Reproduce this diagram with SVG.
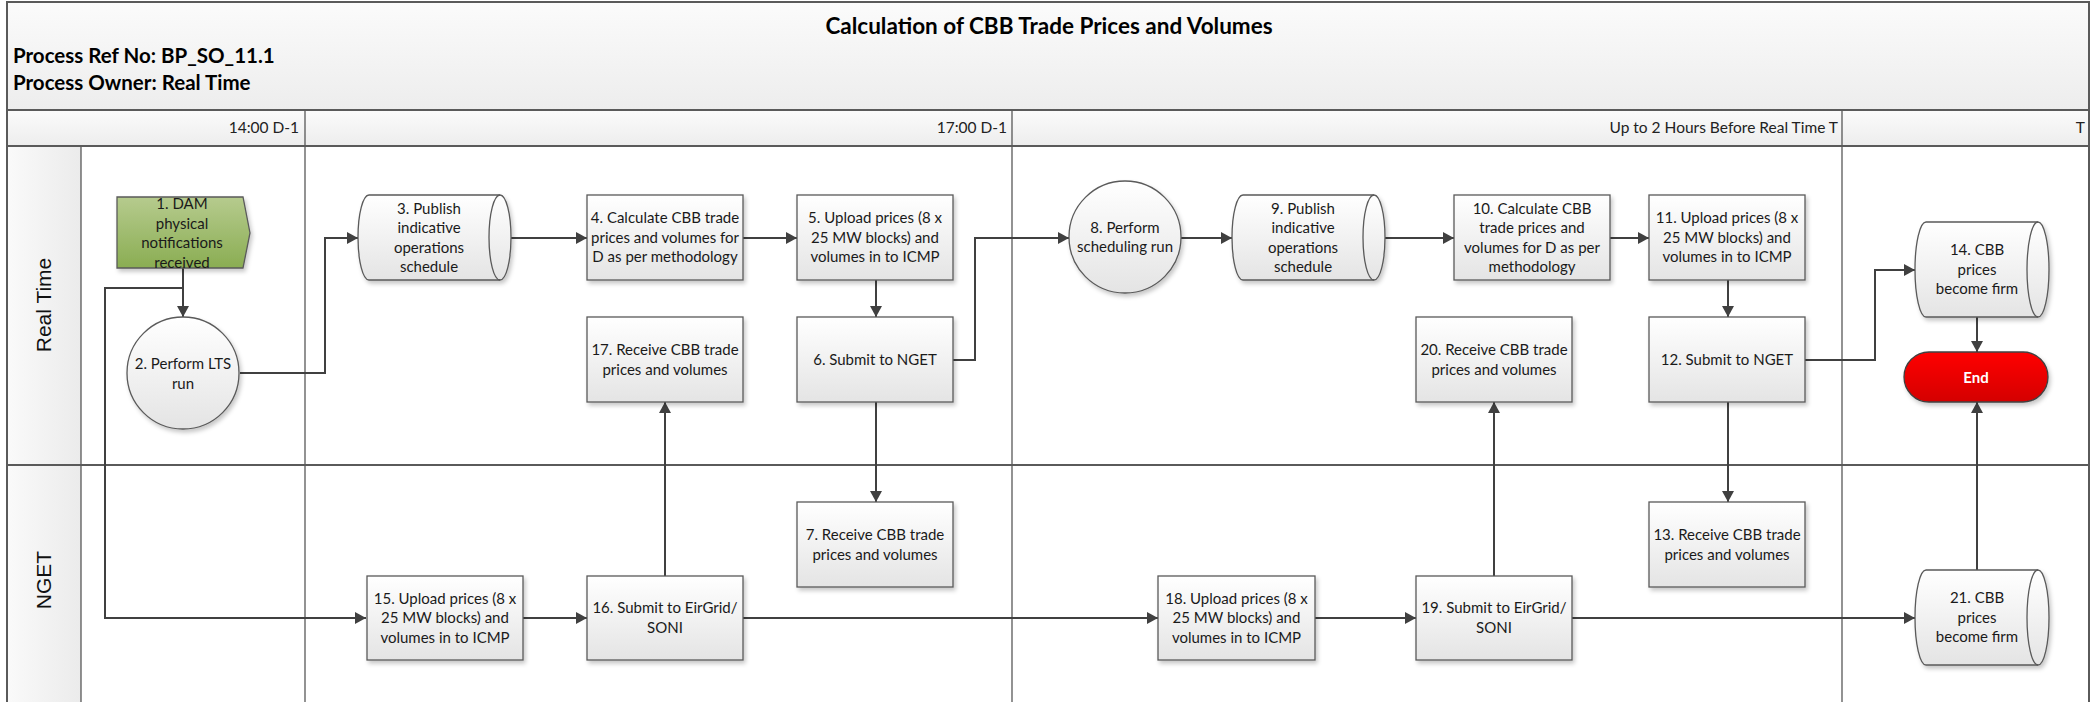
<svg xmlns="http://www.w3.org/2000/svg" width="2100" height="702" viewBox="0 0 2100 702">
<defs>
<linearGradient id="hg" x1="0" y1="0" x2="0" y2="1"><stop offset="0" stop-color="#fbfbfb"/><stop offset="1" stop-color="#ededed"/></linearGradient>
<linearGradient id="lg" x1="0" y1="0" x2="1" y2="0"><stop offset="0" stop-color="#fafafa"/><stop offset="1" stop-color="#ebebeb"/></linearGradient>
<linearGradient id="ng" x1="0" y1="0" x2="0" y2="1"><stop offset="0" stop-color="#ffffff"/><stop offset="1" stop-color="#e4e4e4"/></linearGradient>
<linearGradient id="gg" x1="0" y1="0" x2="0" y2="1"><stop offset="0" stop-color="#b6cb8e"/><stop offset="1" stop-color="#8aad52"/></linearGradient>
<linearGradient id="rg" x1="0" y1="0" x2="0" y2="1"><stop offset="0" stop-color="#ff0000"/><stop offset="1" stop-color="#d40000"/></linearGradient>
<filter id="sh" x="-10%" y="-10%" width="130%" height="140%"><feDropShadow dx="2" dy="3" stdDeviation="2" flood-color="#000" flood-opacity="0.22"/></filter>
<marker id="ah" markerUnits="userSpaceOnUse" markerWidth="12" markerHeight="12" refX="11" refY="6" orient="auto"><path d="M0,0 L11,6 L0,12 z" fill="#404040"/></marker>
<style>
.n{fill:url(#ng);stroke:#5a5a5a;stroke-width:1.3;filter:url(#sh)}
.arc{fill:none;stroke:#5a5a5a;stroke-width:1.3}
.t{font-family:Lato,"Liberation Sans",sans-serif;font-size:15px;fill:#1a1a1a;text-anchor:middle}
.ph{font-family:Lato,"Liberation Sans",sans-serif;font-size:15.5px;fill:#222;text-anchor:end}
.hd{font-family:Lato,"Liberation Sans",sans-serif;font-size:20.5px;font-weight:bold;fill:#000}
.ln{font-family:"Liberation Sans",Arial,sans-serif;font-size:21px;fill:#111;text-anchor:middle}
.c{fill:none;stroke:#404040;stroke-width:2;marker-end:url(#ah)}
.fr{fill:none;stroke:#5a5a5a;stroke-width:2}
.dv{stroke:#4a4a4a;stroke-width:1.2}
</style>
</defs>
<rect x="0" y="0" width="2100" height="702" fill="#ffffff"/>
<g id="pool">
<rect x="7" y="2" width="2082" height="108" fill="url(#hg)"/>
<rect x="7" y="110" width="2082" height="36" fill="url(#hg)"/>
<rect x="7" y="146" width="74" height="560" fill="url(#lg)"/>
<line class="dv" x1="305" y1="110" x2="305" y2="702"/>
<line class="dv" x1="1012" y1="110" x2="1012" y2="702"/>
<line class="dv" x1="1842" y1="110" x2="1842" y2="702"/>
<line class="dv" x1="81" y1="146" x2="81" y2="702"/>
<line class="fr" x1="7" y1="110" x2="2089" y2="110"/>
<line class="fr" x1="7" y1="146" x2="2089" y2="146"/>
<line class="fr" x1="7" y1="465" x2="2089" y2="465"/>
<path class="fr" d="M7,710 V2 H2089 V710"/>
<text class="hd" x="1049" y="34" text-anchor="middle" style="font-size:22.5px">Calculation of CBB Trade Prices and Volumes</text>
<text class="hd" x="13" y="63">Process Ref No: BP_SO_11.1</text>
<text class="hd" x="13" y="90">Process Owner: Real Time</text>
<text class="ph" x="299" y="133">14:00 D-1</text>
<text class="ph" x="1007" y="133">17:00 D-1</text>
<text class="ph" x="1838" y="133">Up to 2 Hours Before Real Time T</text>
<text class="ph" x="2085" y="133">T</text>
<text class="ln" transform="translate(51,305) rotate(-90)">Real Time</text>
<text class="ln" transform="translate(51,580) rotate(-90)">NGET</text>
</g>
<g id="connectors">
<path class="c" d="M183,268 V317"/>
<path class="c" d="M183,268 V288 H105 V618 H366"/>
<path class="c" d="M240,373 H325 V238 H358"/>
<path class="c" d="M500,238 H587"/>
<path class="c" d="M743,238 H797"/>
<path class="c" d="M876,280 V317"/>
<path class="c" d="M953,360 H975 V238 H1069"/>
<path class="c" d="M876,402 V502"/>
<path class="c" d="M1181,238 H1232"/>
<path class="c" d="M1374,238 H1454"/>
<path class="c" d="M1610,238 H1649"/>
<path class="c" d="M1728,280 V317"/>
<path class="c" d="M1805,360 H1875 V270 H1915"/>
<path class="c" d="M1728,402 V502"/>
<path class="c" d="M1977,317 V352"/>
<path class="c" d="M523,618 H587"/>
<path class="c" d="M665,576 V402"/>
<path class="c" d="M743,618 H1158"/>
<path class="c" d="M1315,618 H1416"/>
<path class="c" d="M1494,576 V402"/>
<path class="c" d="M1572,618 H1915"/>
<path class="c" d="M1977,570 V402"/>
</g>
<g id="n1"><path d="M117,197 H243 L250,233 L243,268 H117 Z" fill="url(#gg)" stroke="#5a5a5a" stroke-width="1.3" filter="url(#sh)"/>
<text class="t" x="182"><tspan x="182" y="209">1. DAM</tspan><tspan x="182" y="228.5">physical</tspan><tspan x="182" y="248">notifications</tspan><tspan x="182" y="267.5">received</tspan></text></g>
<g id="n2"><circle class="n" cx="183" cy="373" r="56"/>
<text class="t"><tspan x="183" y="369">2. Perform LTS</tspan><tspan x="183" y="388.5">run</tspan></text></g>
<g id="n3"><path class="n" d="M369,195 H500 A11,42.5 0 0 1 500,280 H369 A11,42.5 0 0 1 369,195 Z"/><path class="arc" d="M500,195 A11,42.5 0 0 0 500,280"/>
<text class="t"><tspan x="429" y="213.5">3. Publish</tspan><tspan x="429" y="233">indicative</tspan><tspan x="429" y="252.5">operations</tspan><tspan x="429" y="272">schedule</tspan></text></g>
<g id="n4"><rect class="n" x="587" y="195" width="156" height="85"/>
<text class="t"><tspan x="665" y="223">4. Calculate CBB trade</tspan><tspan x="665" y="242.5">prices and volumes for</tspan><tspan x="665" y="262">D as per methodology</tspan></text></g>
<g id="n5"><rect class="n" x="797" y="195" width="156" height="85"/>
<text class="t"><tspan x="875" y="223">5. Upload prices (8 x</tspan><tspan x="875" y="242.5">25 MW blocks) and</tspan><tspan x="875" y="262">volumes in to ICMP</tspan></text></g>
<g id="n6"><rect class="n" x="797" y="317" width="156" height="85"/>
<text class="t" x="875" y="365">6. Submit to NGET</text></g>
<g id="n7"><rect class="n" x="797" y="502" width="156" height="85"/>
<text class="t"><tspan x="875" y="540">7. Receive CBB trade</tspan><tspan x="875" y="559.5">prices and volumes</tspan></text></g>
<g id="n8"><circle class="n" cx="1125" cy="237" r="56"/>
<text class="t"><tspan x="1125" y="232.5">8. Perform</tspan><tspan x="1125" y="252">scheduling run</tspan></text></g>
<g id="n9"><path class="n" d="M1243,195 H1374 A11,42.5 0 0 1 1374,280 H1243 A11,42.5 0 0 1 1243,195 Z"/><path class="arc" d="M1374,195 A11,42.5 0 0 0 1374,280"/>
<text class="t"><tspan x="1303" y="213.5">9. Publish</tspan><tspan x="1303" y="233">indicative</tspan><tspan x="1303" y="252.5">operations</tspan><tspan x="1303" y="272">schedule</tspan></text></g>
<g id="n10"><rect class="n" x="1454" y="195" width="156" height="85"/>
<text class="t"><tspan x="1532" y="213.5">10. Calculate CBB</tspan><tspan x="1532" y="233">trade prices and</tspan><tspan x="1532" y="252.5">volumes for D as per</tspan><tspan x="1532" y="272">methodology</tspan></text></g>
<g id="n11"><rect class="n" x="1649" y="195" width="156" height="85"/>
<text class="t"><tspan x="1727" y="223">11. Upload prices (8 x</tspan><tspan x="1727" y="242.5">25 MW blocks) and</tspan><tspan x="1727" y="262">volumes in to ICMP</tspan></text></g>
<g id="n12"><rect class="n" x="1649" y="317" width="156" height="85"/>
<text class="t" x="1727" y="365">12. Submit to NGET</text></g>
<g id="n13"><rect class="n" x="1649" y="502" width="156" height="85"/>
<text class="t"><tspan x="1727" y="540">13. Receive CBB trade</tspan><tspan x="1727" y="559.5">prices and volumes</tspan></text></g>
<g id="n14"><path class="n" d="M1926,222 H2038 A11,47.5 0 0 1 2038,317 H1926 A11,47.5 0 0 1 1926,222 Z"/><path class="arc" d="M2038,222 A11,47.5 0 0 0 2038,317"/>
<text class="t"><tspan x="1977" y="255">14. CBB</tspan><tspan x="1977" y="274.5">prices</tspan><tspan x="1977" y="294">become firm</tspan></text></g>
<g id="end"><rect x="1904" y="352" width="144" height="50" rx="25" ry="25" fill="url(#rg)" stroke="#404040" stroke-width="1.3" filter="url(#sh)"/>
<text class="t" x="1976" y="383" style="fill:#ffffff;font-weight:bold">End</text></g>
<g id="n15"><rect class="n" x="367" y="576" width="156" height="84"/>
<text class="t"><tspan x="445" y="603.5">15. Upload prices (8 x</tspan><tspan x="445" y="623">25 MW blocks) and</tspan><tspan x="445" y="642.5">volumes in to ICMP</tspan></text></g>
<g id="n16"><rect class="n" x="587" y="576" width="156" height="84"/>
<text class="t"><tspan x="665" y="613">16. Submit to EirGrid/</tspan><tspan x="665" y="632.5">SONI</tspan></text></g>
<g id="n17"><rect class="n" x="587" y="317" width="156" height="85"/>
<text class="t"><tspan x="665" y="355">17. Receive CBB trade</tspan><tspan x="665" y="374.5">prices and volumes</tspan></text></g>
<g id="n18"><rect class="n" x="1158" y="576" width="157" height="84"/>
<text class="t"><tspan x="1236.5" y="603.5">18. Upload prices (8 x</tspan><tspan x="1236.5" y="623">25 MW blocks) and</tspan><tspan x="1236.5" y="642.5">volumes in to ICMP</tspan></text></g>
<g id="n19"><rect class="n" x="1416" y="576" width="156" height="84"/>
<text class="t"><tspan x="1494" y="613">19. Submit to EirGrid/</tspan><tspan x="1494" y="632.5">SONI</tspan></text></g>
<g id="n20"><rect class="n" x="1416" y="317" width="156" height="85"/>
<text class="t"><tspan x="1494" y="355">20. Receive CBB trade</tspan><tspan x="1494" y="374.5">prices and volumes</tspan></text></g>
<g id="n21"><path class="n" d="M1926,570 H2038 A11,47.5 0 0 1 2038,665 H1926 A11,47.5 0 0 1 1926,570 Z"/><path class="arc" d="M2038,570 A11,47.5 0 0 0 2038,665"/>
<text class="t"><tspan x="1977" y="603">21. CBB</tspan><tspan x="1977" y="622.5">prices</tspan><tspan x="1977" y="642">become firm</tspan></text></g>
</svg>
